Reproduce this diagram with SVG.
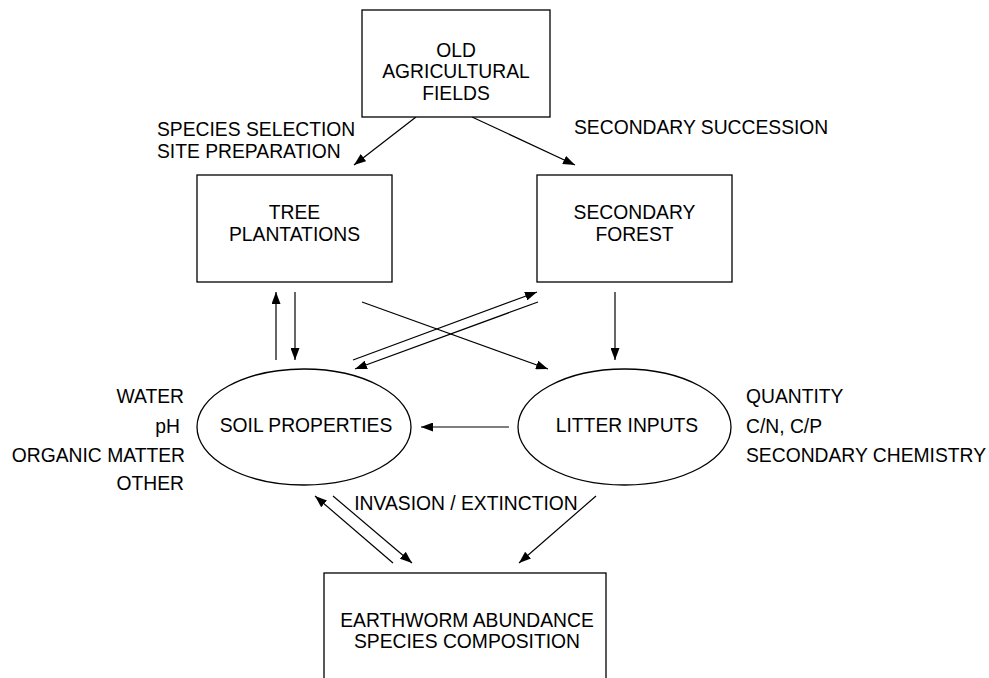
<svg xmlns="http://www.w3.org/2000/svg" width="989" height="678" viewBox="0 0 989 678">
<style>
  .box { fill: #fff; stroke: #000; stroke-width: 1.3; }
  .t { font-family: "Liberation Sans", Arial, sans-serif; font-size: 19.3px; fill: #000; }
  .c { text-anchor: middle; }
  .r { text-anchor: end; }
  .edge { stroke: #000; stroke-width: 1.2; fill: none; marker-end: url(#ah); }
</style>
<defs>
  <marker id="ah" markerUnits="userSpaceOnUse" markerWidth="13" markerHeight="9" refX="12" refY="4.5" orient="auto">
    <path d="M0,0 L12,4.5 L0,9 z" fill="#000"/>
  </marker>
</defs>
<rect width="989" height="678" fill="#fff"/>

<g id="connectors">
  <line class="edge" x1="416" y1="117" x2="354" y2="165"/>
  <line class="edge" x1="472" y1="117" x2="575" y2="165"/>
  <line class="edge" x1="276" y1="360" x2="276" y2="292"/>
  <line class="edge" x1="295" y1="292" x2="295" y2="360"/>
  <line class="edge" x1="362" y1="302" x2="548" y2="369"/>
  <line class="edge" x1="353" y1="360" x2="537" y2="292"/>
  <line class="edge" x1="538" y1="302" x2="355" y2="369"/>
  <line class="edge" x1="615" y1="292" x2="615" y2="360"/>
  <line class="edge" x1="509" y1="427" x2="421" y2="427"/>
  <line class="edge" x1="393" y1="563" x2="315" y2="496"/>
  <line class="edge" x1="333" y1="496" x2="412" y2="563"/>
  <line class="edge" x1="596" y1="496" x2="519" y2="563"/>
</g>

<g id="old-fields">
  <rect class="box" x="362" y="10" width="188" height="107"/>
  <text class="t c" x="456" y="57">OLD</text>
  <text class="t c" x="456" y="78">AGRICULTURAL</text>
  <text class="t c" x="456" y="100">FIELDS</text>
</g>

<g id="label-plantation">
  <text class="t" x="157" y="136">SPECIES SELECTION</text>
  <text class="t" x="157" y="158">SITE PREPARATION</text>
</g>
<g id="label-succession">
  <text class="t" x="574" y="134">SECONDARY SUCCESSION</text>
</g>

<g id="tree-plantations">
  <rect class="box" x="197" y="175" width="195" height="107"/>
  <text class="t c" x="294.5" y="219">TREE</text>
  <text class="t c" x="294.5" y="241">PLANTATIONS</text>
</g>

<g id="secondary-forest">
  <rect class="box" x="537" y="175" width="195" height="107"/>
  <text class="t c" x="634.5" y="219">SECONDARY</text>
  <text class="t c" x="634.5" y="241">FOREST</text>
</g>

<g id="soil-properties">
  <ellipse class="box" cx="304" cy="427" rx="107" ry="58"/>
  <text class="t c" x="306" y="432">SOIL PROPERTIES</text>
</g>

<g id="soil-labels">
  <text class="t r" x="184" y="403">WATER</text>
  <text class="t r" x="180" y="433">pH</text>
  <text class="t r" x="185" y="462">ORGANIC MATTER</text>
  <text class="t r" x="184" y="490">OTHER</text>
</g>

<g id="litter-inputs">
  <ellipse class="box" cx="624.5" cy="427" rx="106.5" ry="58"/>
  <text class="t c" x="627" y="432">LITTER INPUTS</text>
</g>

<g id="litter-labels">
  <text class="t" x="746" y="403">QUANTITY</text>
  <text class="t" x="746" y="433">C/N, C/P</text>
  <text class="t" x="746" y="462">SECONDARY CHEMISTRY</text>
</g>

<g id="label-invasion">
  <text class="t c" x="466" y="510">INVASION / EXTINCTION</text>
</g>

<g id="earthworm">
  <rect class="box" x="324" y="573" width="282" height="120"/>
  <text class="t c" x="467" y="627">EARTHWORM ABUNDANCE</text>
  <text class="t c" x="467" y="648">SPECIES COMPOSITION</text>
</g>
</svg>
